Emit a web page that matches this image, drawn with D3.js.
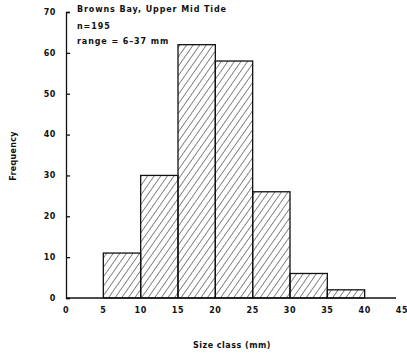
<!DOCTYPE html>
<html><head><meta charset="utf-8">
<script src="https://cdn.jsdelivr.net/npm/d3@7"></script>
<style>
html,body{margin:0;padding:0;background:#fff;}
text{font-family:"DejaVu Sans",sans-serif;font-weight:bold;fill:#111;}
</style></head>
<body><svg id="chart" width="407" height="356"></svg>
<script>
// Data
const binStarts = [5, 10, 15, 20, 25, 30, 35];
const binWidth = 5;
const counts = [11, 30, 62, 58, 26, 6, 2];
const xTicks = [0, 5, 10, 15, 20, 25, 30, 35, 40, 45];
const yTicks = [0, 10, 20, 30, 40, 50, 60, 70];
const noteLines = ["Browns Bay, Upper Mid Tide", "n=195", "range = 6\u201337 mm"];

const svg = d3.select("#chart");
const x = d3.scaleLinear().domain([0, 45]).range([66, 402]);
const y = d3.scaleLinear().domain([0, 70]).range([298, 12]);

// hatch pattern
const defs = svg.append("defs");
const pat = defs.append("pattern").attr("id", "hatch")
  .attr("patternUnits", "userSpaceOnUse").attr("width", 5.4).attr("height", 10)
  .attr("patternTransform", "rotate(35)");
pat.append("line").attr("x1", 0).attr("y1", 0).attr("x2", 0).attr("y2", 10)
  .attr("stroke", "#111").attr("stroke-width", 1);

// bars
svg.append("g").selectAll("rect").data(binStarts).join("rect")
  .attr("x", (d) => x(d))
  .attr("width", (d) => x(d + binWidth) - x(d))
  .attr("y", (d, i) => y(counts[i]))
  .attr("height", (d, i) => y(0) - y(counts[i]))
  .attr("fill", "url(#hatch)")
  .attr("stroke", "#111").attr("stroke-width", 1.3);

// y axis
const yAxis = d3.axisRight(y).tickValues(yTicks).tickSize(4).tickFormat("");
const gy = svg.append("g").attr("transform", `translate(${x(0)},0)`).call(yAxis);
gy.select(".domain").attr("stroke", "#111").attr("stroke-width", 1.3);
gy.selectAll(".tick line").attr("stroke", "#111").attr("stroke-width", 1.3);
svg.append("g").selectAll("text").data(yTicks).join("text")
  .attr("x", 56).attr("y", (d) => y(d)).attr("dy", "0.35em")
  .attr("text-anchor", "end").attr("font-size", 8).attr("letter-spacing", 0.6).text((d) => d);

// x axis line
svg.append("line").attr("x1", x(0)).attr("x2", x(44.2))
  .attr("y1", y(0)).attr("y2", y(0)).attr("stroke", "#111").attr("stroke-width", 1.3);
svg.append("g").selectAll("text").data(xTicks).join("text")
  .attr("x", (d) => x(d)).attr("y", 313)
  .attr("text-anchor", "middle").attr("font-size", 8).attr("letter-spacing", 0.6).text((d) => d);

// annotations
const noteY = [12, 29, 44];
svg.append("g").selectAll("text").data(noteLines).join("text")
  .attr("x", 77).attr("y", (d, i) => noteY[i])
  .attr("font-size", 8).attr("letter-spacing", 0.9).text((d) => d);

// axis titles
svg.append("text").attr("x", 232).attr("y", 348).attr("text-anchor", "middle")
  .attr("font-size", 8).attr("letter-spacing", 0.5).text("Size class (mm)");
svg.append("text").attr("transform", "translate(16,156) rotate(-90)")
  .attr("text-anchor", "middle").attr("font-size", 8).attr("letter-spacing", 0.3).text("Frequency");
</script></body></html>
